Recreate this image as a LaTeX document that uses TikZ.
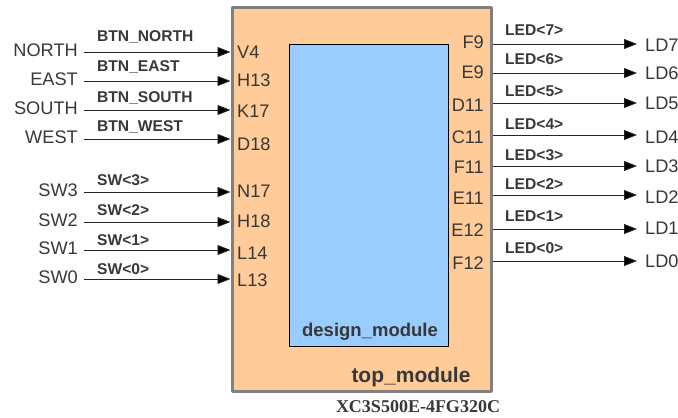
\documentclass[tikz,border=0pt]{standalone}
\usepackage{fontspec}
\setmainfont{Liberation Sans}
\newfontfamily\partfont{Liberation Serif}
\usetikzlibrary{arrows.meta,positioning}

\definecolor{topfill}{HTML}{FFCC99}
\definecolor{designfill}{HTML}{99CCFF}
\definecolor{txtgray}{HTML}{383838}
\definecolor{edgegray}{HTML}{808080}

\begin{document}
\begin{tikzpicture}[x=1pt,y=-1pt,line join=round,
	port/.style={text=txtgray,inner sep=0pt,font=\fontsize{18.2}{18}\selectfont},
	wirelbl/.style={text=txtgray,inner sep=0pt,anchor=west,font=\bfseries\fontsize{15.6}{15}\selectfont},
	modlbl/.style={text=txtgray,inner sep=0pt,font=\bfseries\fontsize{#1}{#1}\selectfont},
	sig/.style={draw=black!85,line width=0.9pt,-{Triangle[length=13pt,width=10pt,fill=black]}}]
	\useasboundingbox (0,0) rectangle (678,418);
	%%% modules
	\node[draw=edgegray,line width=3pt,fill=topfill,minimum width=259pt,minimum height=384pt,inner sep=0pt] (top) at (361.5,199) {};
	\node[draw=black,line width=0.8pt,fill=designfill,minimum width=159pt,minimum height=302pt,inner sep=0pt] (design) at (368.5,195) {};
	\node[modlbl=18.5] (designlbl) at (370,332) {design\_module};
	\node[modlbl=21] (toplbl) at (411,377) {top\_module};
	\node[text=txtgray,inner sep=0pt,font=\partfont\bfseries\fontsize{18}{18}\selectfont] (part) at (418,407) {XC3S500E-4FG320C};
	%%% buttons and switches
	\foreach \n/\w/\p/\y/\wy/\py in {NORTH/BTN\_NORTH/V4/52/37/52, EAST/BTN\_EAST/H13/81/67/80, SOUTH/BTN\_SOUTH/K17/110/98/111, WEST/BTN\_WEST/D18/139/127/144, SW3/SW<3>/N17/192/180/191, SW2/SW<2>/H18/222/210/221, SW1/SW<1>/L14/250/240/253, SW0/SW<0>/L13/279/269/280}{
		\node[port,anchor=east] (in-\n) at (78,\y-2) {\n};
		\coordinate (s-\n) at (84,\y);
		\draw[sig] (s-\n) -- (s-\n -| top.west);
		\node[wirelbl] (w-\n) at (97,\wy) {\w};
		\node[port,anchor=west] (pin-\p) at (237,\py) {\p};
	}
	%%% leds
	\foreach \p/\w/\l/\y/\wy/\py/\ly in {F9/LED<7>/LD7/44/30/42/45, E9/LED<6>/LD6/73/59/72/73, D11/LED<5>/LD5/103/91/105/103, C11/LED<4>/LD4/135/124/137/137, F11/LED<3>/LD3/166/155/167/166, E11/LED<2>/LD2/195/184/198/197, E12/LED<1>/LD1/229/216/230/228, F12/LED<0>/LD0/261/248/263/261}{
		\node[port,anchor=east] (pin-\p) at (484,\py) {\p};
		\coordinate (t-\l) at (637,\y);
		\draw[sig] (t-\l -| top.east) -- (t-\l);
		\node[wirelbl] (w-\l) at (505,\wy) {\w};
		\node[port,anchor=west] (out-\l) at (645,\ly) {\l};
	}
\end{tikzpicture}
\end{document}
